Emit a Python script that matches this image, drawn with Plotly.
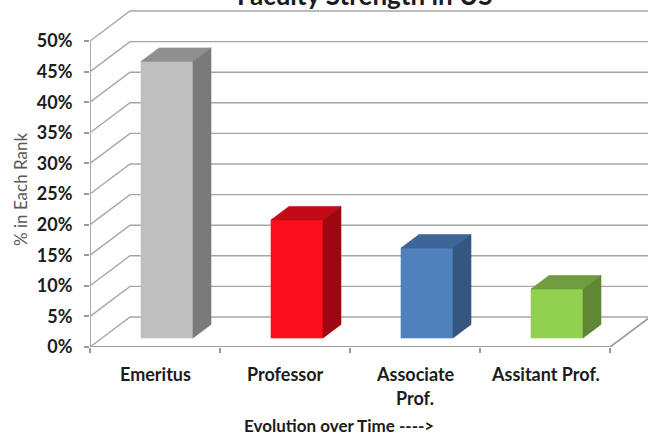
import plotly.graph_objects as go

# ---- data -------------------------------------------------------------
categories = ["Emeritus", "Professor", "Associate<br>Prof.", "Assitant Prof."]
shares = [45.2, 19.3, 14.7, 8.0]          # % of faculty in each rank
y_ticks = [0, 5, 10, 15, 20, 25, 30, 35, 40, 45, 50]
y_tick_text = [f"{v}%" for v in y_ticks]
chart_title = "Faculty Strength in US"
y_title = "% in Each Rank"
x_title = "Evolution over Time ---->"

front_colors = ["#bfbfbf", "#fc0d1e", "#4f81bd", "#92d050"]
top_colors = ["#8f8f8f", "#c20a17", "#3d6597", "#6e9c3f"]
side_colors = ["#7a7a7a", "#9e0611", "#34567f", "#5e8833"]

# ---- oblique "3-D" projection helpers ---------------------------------
DEPTH_X = 0.3077   # shift of the back wall in category units
DEPTH_Y = 4.9      # shift of the back wall in percentage points
BAR_HALF = 0.2     # half width of a bar (category units)
Z_FRONT, Z_BACK = 0.3, 0.75   # bar depth span inside the floor
N = len(categories)
Y_MAX = max(y_ticks)


def proj(x, y, z):
    return x + z * DEPTH_X, y + z * DEPTH_Y


fig = go.Figure()

# walls: diagonal gridlines on the side wall + horizontal ones on the back wall
gx, gy = [], []
for v in y_ticks:
    p0 = (0, v)
    p1 = proj(0, v, 1)
    p2 = proj(N, v, 1)
    gx += [p0[0], p1[0], p2[0], None]
    gy += [p0[1], p1[1], p2[1], None]
fig.add_trace(go.Scatter(x=gx, y=gy, mode="lines",
                         line=dict(color="#a6a6a6", width=1.4),
                         hoverinfo="skip"))

# floor front edge, right floor edge and front vertical axis
fx = [0, N, proj(N, 0, 1)[0], None, 0, 0]
fy = [0, 0, proj(N, 0, 1)[1], None, 0, Y_MAX]
fig.add_trace(go.Scatter(x=fx, y=fy, mode="lines",
                         line=dict(color="#a0a0a0", width=1.8),
                         hoverinfo="skip"))

# bars: front, top and right side faces
for i, v in enumerate(shares):
    xl = i + 0.5 - BAR_HALF
    xr = i + 0.5 + BAR_HALF
    a = proj(xl, 0, Z_FRONT)
    b = proj(xr, 0, Z_FRONT)
    c = proj(xr, v, Z_FRONT)
    d = proj(xl, v, Z_FRONT)
    bb = proj(xr, 0, Z_BACK)
    cb = proj(xr, v, Z_BACK)
    db = proj(xl, v, Z_BACK)
    faces = [
        ([a, b, c, d], front_colors[i]),
        ([d, c, cb, db], top_colors[i]),
        ([b, bb, cb, c], side_colors[i]),
    ]
    for pts, col in faces:
        fig.add_trace(go.Scatter(
            x=[p[0] for p in pts] + [pts[0][0]],
            y=[p[1] for p in pts] + [pts[0][1]],
            mode="lines", fill="toself", fillcolor=col,
            line=dict(color=col, width=0.6),
            name=categories[i].replace("<br>", " "),
            hoverinfo="name"))

# ---- layout -----------------------------------------------------------
W, H = 648, 437
ML, MB = 90, 90
PX_PER_CAT = 130.0
PX_PER_PCT = 6.12
plot_w = W - ML
plot_h = H - MB
TEXT = "#1c1c1c"

fig.update_layout(
    width=W, height=H,
    margin=dict(l=ML, r=0, t=0, b=MB),
    paper_bgcolor="white", plot_bgcolor="white",
    showlegend=False,
    xaxis=dict(range=[0, plot_w / PX_PER_CAT],
               tickvals=list(range(N + 1)), ticks="outside", ticklen=5,
               tickcolor="#9a9a9a", tickwidth=1.5,
               showticklabels=False, showgrid=False, zeroline=False,
               showline=False, fixedrange=True),
    yaxis=dict(range=[0, plot_h / PX_PER_PCT],
               tickvals=y_ticks, ticktext=y_tick_text,
               ticks="outside", ticklen=5, tickcolor="#9a9a9a", tickwidth=1.5,
               tickfont=dict(family="Lato", size=18, color=TEXT,
                             weight="bold"),
               ticklabelstandoff=8,
               showgrid=False, zeroline=False, showline=False,
               fixedrange=True),
)


def px_x(x):
    return (x - ML) / plot_w


def px_y(y):
    return (plot_h - y) / plot_h


annotations = [
    dict(text=chart_title, xref="paper", yref="paper",
         x=px_x(365), y=px_y(-5),
         xanchor="center", yanchor="middle", showarrow=False,
         font=dict(family="Lato", size=26, color=TEXT, weight="bold")),
    dict(text=y_title, xref="paper", yref="paper",
         x=px_x(20), y=px_y(190), textangle=-90,
         xanchor="center", yanchor="middle", showarrow=False,
         font=dict(family="Lato", size=17, color="#595959")),
    dict(text=x_title, xref="paper", yref="paper",
         x=px_x(339), y=px_y(425),
         xanchor="center", yanchor="middle", showarrow=False,
         font=dict(family="Lato", size=17, color=TEXT, weight="bold")),
]
# category labels, one annotation per text line
for i, cat in enumerate(categories):
    for k, line in enumerate(cat.split("<br>")):
        annotations.append(dict(
            text=line, xref="x", yref="paper",
            x=i + 0.5, y=px_y(374 + 24 * k),
            xanchor="center", yanchor="middle", showarrow=False,
            font=dict(family="Lato", size=18, color=TEXT, weight="bold")))
fig.update_layout(annotations=annotations)

fig.write_html("out.html")
